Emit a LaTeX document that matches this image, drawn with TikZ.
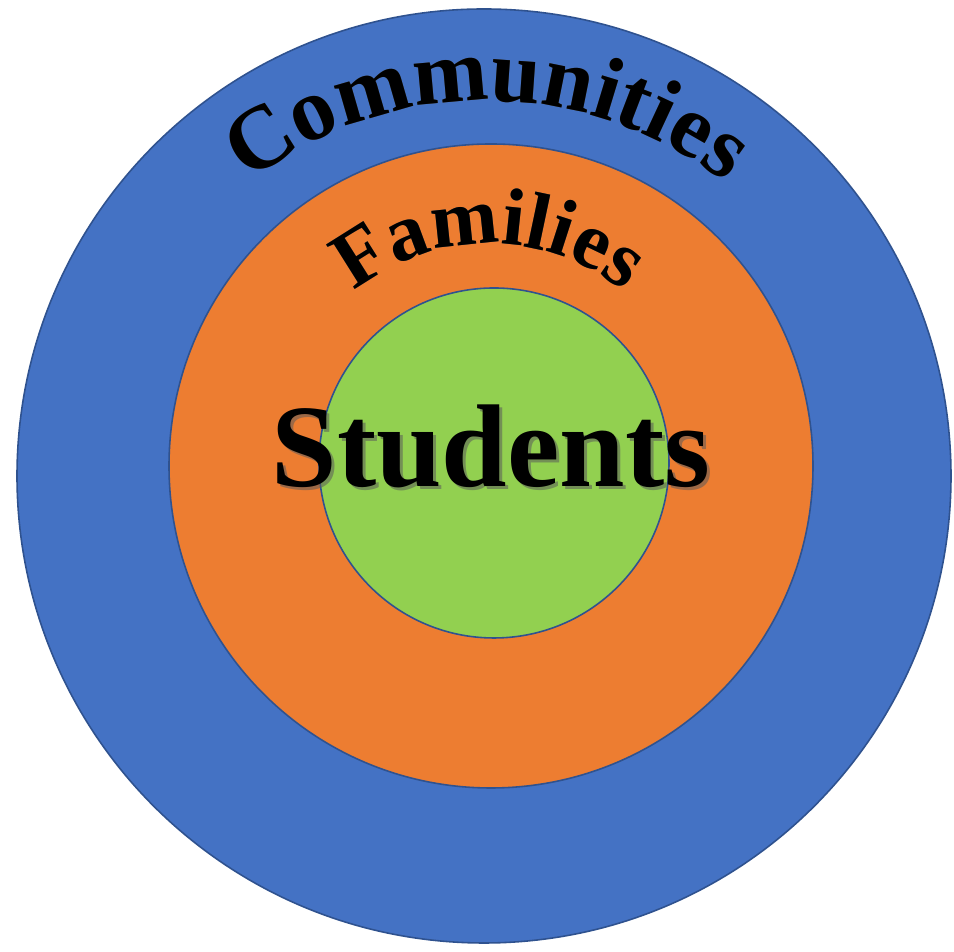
\documentclass[tikz,border=0pt]{standalone}
\usepackage{fontspec}
\setmainfont{Liberation Serif}
\usetikzlibrary{decorations.text,calc}
\definecolor{ringblue}{HTML}{4472C4}
\definecolor{ringorange}{HTML}{ED7D31}
\definecolor{ringgreen}{HTML}{92D050}
\definecolor{ringedge}{HTML}{2F528F}
\definecolor{shadowgray}{HTML}{5A5A5A}
\tikzset{
  ring/.style={draw=ringedge, line width=0.9pt},
  shadowtext/.style={shift={(3,-3)}, opacity=0.55},
}
\begin{document}
\begin{tikzpicture}[x=0.02cm,y=0.02cm]
\useasboundingbox (0,0) rectangle (954,952);
\coordinate (cb) at (484,476);
\coordinate (co) at (491,486);
\coordinate (cg) at (494,489);
\coordinate (tc) at (487,463);
\coordinate (tf) at (489,492);
\fill[white] (0,0) rectangle (954,952);
\path[ring, fill=ringblue] (cb) circle[radius=467];
\path[ring, fill=ringorange] (co) circle[radius=322];
\path[ring, fill=ringgreen] (cg) circle[radius=175];
% Communities (shadow then text)
\path[shadowtext, decorate, decoration={text along path, text align=center,
  text={|\fontsize{51}{61}\bfseries\color{shadowgray}|Communities}}]
  ($(tc)+(135:388)$) arc[start angle=135, end angle=45, radius=388];
\path[decorate, decoration={text along path, text align=center,
  text={|\fontsize{51}{61}\bfseries\color{black}|Communities}}]
  ($(tc)+(135:388)$) arc[start angle=135, end angle=45, radius=388];
% Families
\path[shadowtext, decorate, decoration={text along path, text align=center,
  text={|\fontsize{46}{54}\bfseries\color{shadowgray}|Families}}]
  ($(tf)+(140:216)$) arc[start angle=140, end angle=40, radius=216];
\path[decorate, decoration={text along path, text align=center,
  text={|\fontsize{46}{54}\bfseries\color{black}|Families}}]
  ($(tf)+(140:216)$) arc[start angle=140, end angle=40, radius=216];
% Students
\node[anchor=base, inner sep=0, text=shadowgray, opacity=0.55, font=\fontsize{67}{80}\selectfont\bfseries] (stsh) at (494,462) {Students};
\node[anchor=base, inner sep=0, text=black, font=\fontsize{67}{80}\selectfont\bfseries] (st) at (491,465) {Students};
\end{tikzpicture}
\end{document}
